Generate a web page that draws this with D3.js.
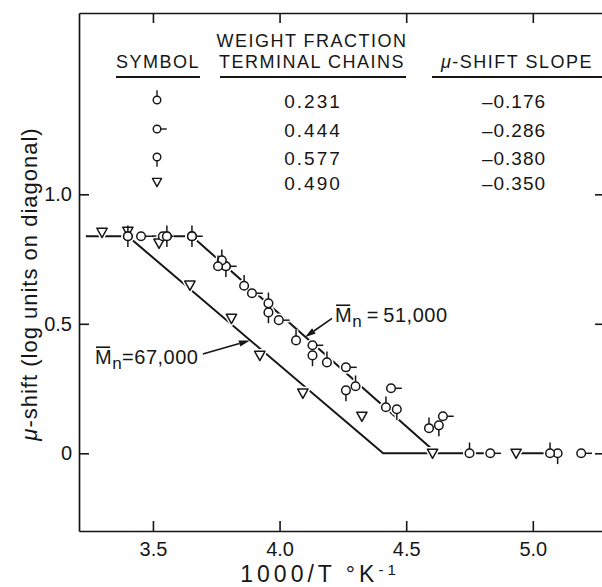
<!DOCTYPE html>
<html>
<head>
<meta charset="utf-8">
<script src="https://cdn.jsdelivr.net/npm/d3@7"></script>
<style>
  html, body { margin: 0; padding: 0; background: #fff; }
  svg { display: block; }
  text { font-family: "Liberation Sans", Arial, sans-serif; fill: #161616; }
</style>
</head>
<body>
<svg id="chart" width="602" height="587"></svg>
<script>
// ---- axis ticks ----
const xTicks = [3.5, 4.0, 4.5, 5.0];
const yTicks = [0, 0.5, 1.0];

// ---- legend table ----
const legendKinds = ["top", "right", "bottom", "triangle"];
const legendFractions = ["0.231", "0.444", "0.577", "0.490"];
const legendSlopes = ["–0.176", "–0.286", "–0.380", "–0.350"];

// ---- measurements: [1000/T, mu-shift] ----
// weight fraction 0.231 (circle, tick above)
const frac231 = [
  [3.401, 0.838], [3.555, 0.838], [3.654, 0.838], [3.772, 0.745], [3.757, 0.722],
  [3.860, 0.647], [3.956, 0.579], [4.065, 0.436], [4.187, 0.351], [4.300, 0.259],
  [4.420, 0.178], [4.590, 0.097], [4.750, 0.000], [5.068, 0.000]
];
// weight fraction 0.444 (circle, tick right)
const frac444 = [
  [3.453, 0.838], [3.539, 0.838], [3.654, 0.838], [3.788, 0.722], [3.891, 0.618],
  [3.997, 0.514], [4.130, 0.417], [4.262, 0.332], [4.440, 0.251], [4.645, 0.143],
  [4.832, 0.000], [5.191, 0.000]
];
// weight fraction 0.577 (circle, tick below)
const frac577 = [
  [3.401, 0.838], [3.555, 0.838], [3.654, 0.838], [3.788, 0.722], [3.956, 0.544],
  [4.130, 0.378], [4.262, 0.243], [4.463, 0.170], [4.629, 0.108], [5.098, 0.000]
];
// weight fraction 0.490 (inverted triangle)
const frac490 = [
  [3.299, 0.853], [3.401, 0.857], [3.524, 0.811], [3.646, 0.649], [3.810, 0.521],
  [3.922, 0.378], [4.092, 0.232], [4.325, 0.143], [4.604, 0.000], [4.934, 0.000]
];

// ---- fitted lines ----
const fit67000 = [[3.235, 0.838], [3.401, 0.838], [4.409, 0.000], [4.832, 0.000]];
const fit51000 = [[3.453, 0.838], [3.654, 0.838], [4.620, 0.000]];
const fitTail = [[4.934, 0.000], [5.068, 0.000]];

const svg = d3.select("#chart");

const x = d3.scaleLinear().domain([3.208, 5.285]).range([79, 605]);
const y = d3.scaleLinear().domain([-0.3, 1.7]).range([531, 13]);

const INK = "#161616";

// ---- axes: ticks point into the frame ----
function styleAxis(g) {
  g.selectAll("path.domain").attr("stroke", INK).attr("stroke-width", 1.7);
  g.selectAll(".tick line").attr("stroke", INK).attr("stroke-width", 1.6);
  g.selectAll(".tick text")
    .style("font-family", '"Liberation Sans", Arial, sans-serif')
    .style("font-size", "20px")
    .attr("fill", INK);
}

svg.append("g")
  .attr("transform", `translate(0,${y(-0.3)})`)
  .call(d3.axisBottom(x).tickValues(xTicks).tickSize(-10).tickSizeOuter(0)
        .tickPadding(11).tickFormat(d3.format(".1f")))
  .call(styleAxis);

svg.append("g")
  .attr("transform", `translate(0,${y(1.7)})`)
  .call(d3.axisTop(x).tickValues(xTicks).tickSize(-10).tickSizeOuter(0).tickFormat(""))
  .call(styleAxis);

svg.append("g")
  .attr("transform", `translate(${x(3.208)},0)`)
  .call(d3.axisLeft(y).tickValues(yTicks).tickSize(-10).tickSizeOuter(0)
        .tickPadding(7).tickFormat(d => d === 0 ? "0" : d3.format(".1f")(d)))
  .call(styleAxis);

svg.append("g")
  .attr("transform", `translate(${x(5.285)},0)`)
  .call(d3.axisRight(y).tickValues(yTicks).tickSize(-10).tickSizeOuter(0).tickFormat(""))
  .call(styleAxis);

// ---- axis titles ----
const xTitle = svg.append("text")
  .attr("x", 320).attr("y", 582)
  .attr("text-anchor", "middle")
  .style("font-size", "23px").style("letter-spacing", "4px");
xTitle.append("tspan").text("1000/T °K");
xTitle.append("tspan").attr("baseline-shift", "45%").style("font-size", "15px").text("-1");

const yTitle = svg.append("text")
  .attr("transform", `translate(37,${(y(-0.3) + y(1.7)) / 2 + 12}) rotate(-90)`)
  .attr("text-anchor", "middle")
  .style("font-size", "22px").style("letter-spacing", "1px");
yTitle.append("tspan").style("font-style", "italic").text("μ");
yTitle.append("tspan").text("-shift (log units on diagonal)");

// ---- fitted lines ----
const line = d3.line().x(d => x(d[0])).y(d => y(d[1]));
const plot = svg.append("g");
[fit67000, fit51000, fitTail].forEach(pts => {
  plot.append("path").attr("d", line(pts))
    .attr("fill", "none").attr("stroke", INK).attr("stroke-width", 2);
});

// ---- symbols ----
const R = 4.3, TICK = 6.5;
function drawSymbol(g, kind, cx, cy, r, tick, stroke, width) {
  if (kind === "triangle") {
    const s = r * 1.2;
    g.append("path")
      .attr("d", `M${cx - s},${cy - s * 0.8}L${cx + s},${cy - s * 0.8}L${cx},${cy + s}Z`)
      .attr("fill", "#fff").attr("stroke", stroke).attr("stroke-width", width)
      .attr("stroke-linejoin", "round");
    return;
  }
  let tx1 = 0, ty1 = 0, tx2 = 0, ty2 = 0;
  if (kind === "top") { ty1 = -r; ty2 = -r - tick; }
  if (kind === "bottom") { ty1 = r; ty2 = r + tick; }
  if (kind === "right") { tx1 = r; tx2 = r + tick; }
  g.append("line")
    .attr("x1", cx + tx1).attr("y1", cy + ty1).attr("x2", cx + tx2).attr("y2", cy + ty2)
    .attr("stroke", stroke).attr("stroke-width", width);
  g.append("circle").attr("cx", cx).attr("cy", cy).attr("r", r)
    .attr("fill", "#fff").attr("stroke", stroke).attr("stroke-width", width);
}

const series = [
  { kind: "triangle", pts: frac490 },
  { kind: "bottom", pts: frac577 },
  { kind: "right", pts: frac444 },
  { kind: "top", pts: frac231 }
];

// white halo first so the fitted lines break around each mark
const halo = plot.append("g");
series.forEach(s => s.pts.forEach(p =>
  drawSymbol(halo, s.kind, x(p[0]), y(p[1]), R, TICK, "#fff", 4.5)));
const marks = plot.append("g");
series.forEach(s => s.pts.forEach(p =>
  drawSymbol(marks, s.kind, x(p[0]), y(p[1]), R, TICK, INK, 1.5)));

// ---- annotations ----
function arrow(from, to) {
  const x1 = x(from[0]), y1 = y(from[1]), x2 = x(to[0]), y2 = y(to[1]);
  const a = Math.atan2(y2 - y1, x2 - x1);
  const len = 11, half = 3.2;
  const bx = x2 - len * Math.cos(a), by = y2 - len * Math.sin(a);
  plot.append("line").attr("x1", x1).attr("y1", y1).attr("x2", bx).attr("y2", by)
    .attr("stroke", INK).attr("stroke-width", 1.6);
  plot.append("path")
    .attr("d", `M${x2},${y2}L${bx - half * Math.sin(a)},${by + half * Math.cos(a)}L${bx + half * Math.sin(a)},${by - half * Math.cos(a)}Z`)
    .attr("fill", INK);
}

function mnLabel(px, py, rest) {
  const t = svg.append("text").attr("x", px).attr("y", py)
    .style("font-size", "20px").style("letter-spacing", "0.5px");
  t.append("tspan").text("M");
  t.append("tspan").attr("baseline-shift", "-28%").style("font-size", "17px").text("n");
  t.append("tspan").attr("baseline-shift", "0").text(rest);
  const ext = t.node().getExtentOfChar(0);
  svg.append("line")
    .attr("x1", ext.x + 1).attr("x2", ext.x + ext.width - 2)
    .attr("y1", ext.y + 1).attr("y2", ext.y + 1)
    .attr("stroke", INK).attr("stroke-width", 1.6);
}

arrow([4.207, 0.521], [4.100, 0.448]);
mnLabel(x(4.219), y(0.506), "\u2009=\u200951,000");
arrow([3.697, 0.383], [3.883, 0.436]);
mnLabel(x(3.271), y(0.344), "=67,000");

// ---- legend table ----
const legend = svg.append("g");
const headStyle = t => t.style("font-size", "18px").style("letter-spacing", "1.5px")
  .attr("text-anchor", "middle");

legend.append("text").attr("x", 158).attr("y", 68).text("SYMBOL").call(headStyle);
legend.append("text").attr("x", 312).attr("y", 47).text("WEIGHT FRACTION").call(headStyle);
legend.append("text").attr("x", 312).attr("y", 68).text("TERMINAL CHAINS").call(headStyle);
const slopeHead = legend.append("text").attr("x", 517).attr("y", 68).call(headStyle);
slopeHead.append("tspan").style("font-style", "italic").text("μ");
slopeHead.append("tspan").text("-SHIFT SLOPE");

[[116, 200], [220, 406], [432, 602]].forEach(([a, b]) => {
  legend.append("line").attr("x1", a).attr("x2", b).attr("y1", 77).attr("y2", 77)
    .attr("stroke", INK).attr("stroke-width", 2);
});

const rowBase = [108, 137, 165, 190];
legendKinds.forEach((k, i) => {
  drawSymbol(legend, k, 157, rowBase[i] - 8, 3.8, 6, INK, 1.4);
  legend.append("text").attr("x", 313).attr("y", rowBase[i]).attr("text-anchor", "middle")
    .style("font-size", "19px").style("letter-spacing", "2px").text(legendFractions[i]);
  legend.append("text").attr("x", 514).attr("y", rowBase[i]).attr("text-anchor", "middle")
    .style("font-size", "19px").style("letter-spacing", "1px").text(legendSlopes[i]);
});
</script>
</body>
</html>
